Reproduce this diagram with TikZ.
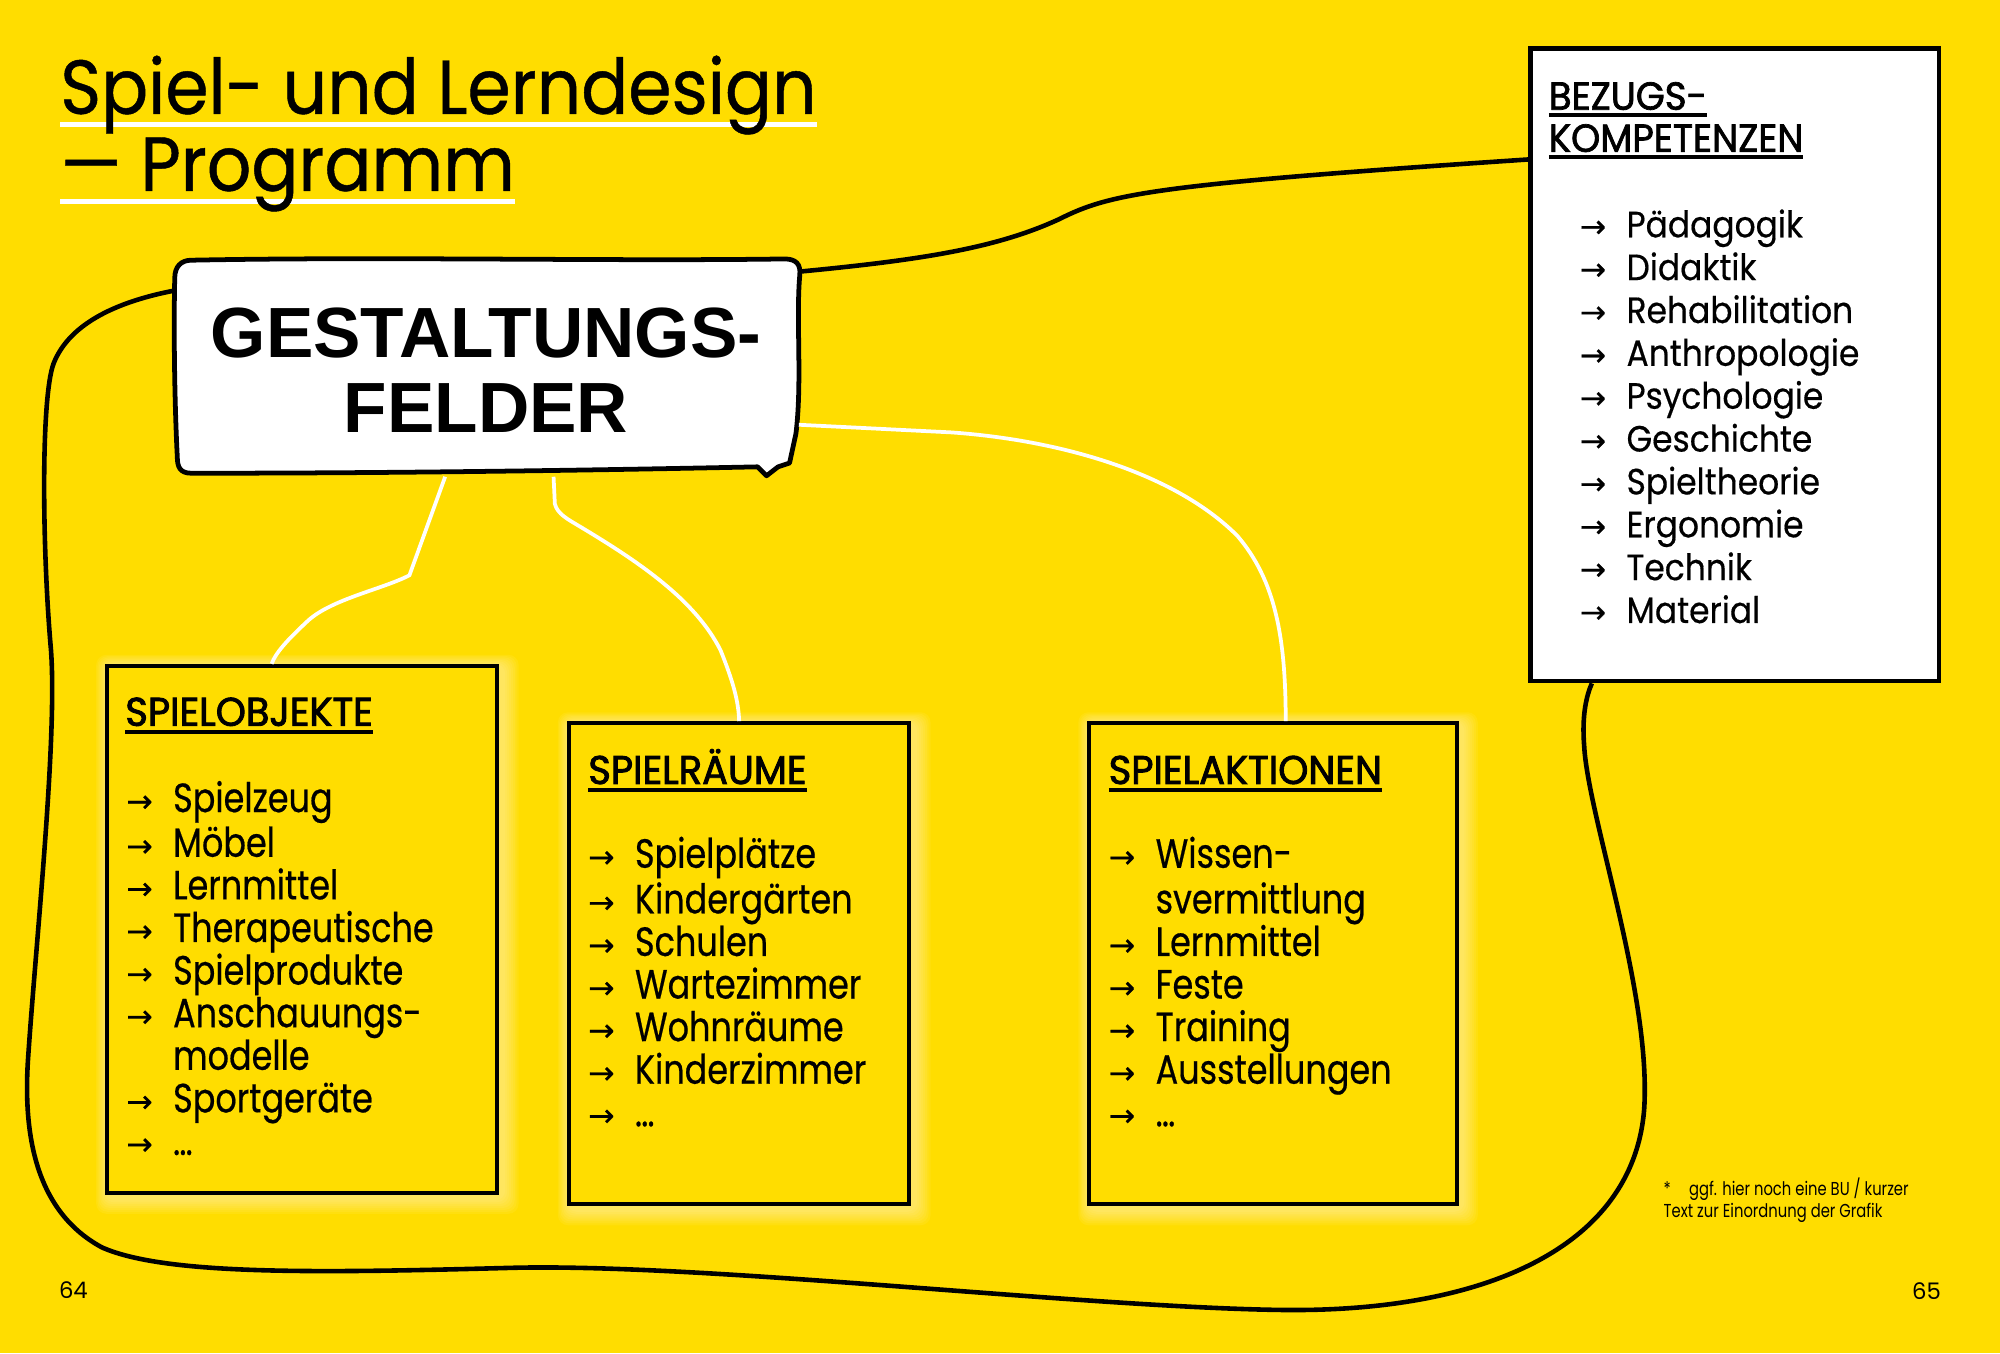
\documentclass[tikz,border=0pt]{standalone}
\usepackage{fontspec}
\setmainfont{Poppins}
\newfontfamily\titlefont[FakeStretch=0.91,FakeBold=0.6]{Poppins}
\newfontfamily\listfont[FakeStretch=0.9,FakeBold=0.4]{Poppins}
\newfontfamily\condfont[FakeStretch=0.82,FakeBold=0.5]{Poppins}
\newfontfamily\headfont[FakeStretch=0.96,FakeBold=2.2]{Poppins}
\newfontfamily\bkheadfont[FakeStretch=0.95,FakeBold=1.8]{Poppins}
\newfontfamily\notefont[FakeStretch=0.79]{Poppins}
\newfontfamily\fieldfont{Liberation Sans}
\newfontfamily\arrowfont[FakeBold=0.4]{DejaVu Sans}
\usetikzlibrary{calc}
\definecolor{pageyellow}{RGB}{255,221,0}
\pgfdeclarelayer{paper}
\pgfdeclarelayer{glow}
\pgfsetlayers{paper,glow,main}
% underlined word: colour, raise, thickness, text
\newcommand{\ulword}[4]{\setbox0=\hbox{#4}\rlap{\color{#1}\rule[#2]{\wd0}{#3}}\box0}
\newcommand{\arw}{\makebox[27.5pt][l]{\arrowfont\fontsize{18.5pt}{18.5pt}\selectfont →}}
\newcommand{\ind}{\hspace*{27.5pt}}

\begin{document}
\begin{tikzpicture}[x=0.75pt,y=0.75pt,yscale=-1,xscale=1,
    box/.style={draw=black, line width=2.4pt, fill=pageyellow, inner sep=0pt},
    listtext/.style={align=left, inner sep=0pt, anchor=west},
    headtext/.style={inner sep=0pt, anchor=base west},
    loopline/.style={draw=black, line width=2.7pt},
    whiteline/.style={draw=white, line width=2.2pt}]

    %Page
    \begin{pgfonlayer}{paper}
    \fill[pageyellow] (0,0) rectangle (1568,1061);
    \end{pgfonlayer}
    \useasboundingbox (0,0) rectangle (1568,1061);

    % Title
    \node[listtext, font={\titlefont\fontsize{45pt}{43pt}\selectfont}] (title) at (47,105.2) {\strut\ulword{white}{-7.5pt}{3pt}{Spiel- und Lerndesign}\\\ulword{white}{-7.9pt}{3pt}{— Programm}\strut};

    %Shape: hand drawn box
    \draw[line width=2.8pt, fill=white, line join=round] (150,204) .. controls (300,201) and (480,205) .. (615,203) .. controls (624,203) and (628,207) .. (627,216) .. controls (624,250) and (629,300) .. (624,340) -- (619,363) -- (610,366) -- (601,373) -- (594,366) .. controls (450,369) and (300,371) .. (150,371) .. controls (141,371) and (139,366) .. (139,358) .. controls (137,320) and (136,260) .. (137,218) .. controls (137,209) and (142,204) .. cycle;
    % Text Node
    \node[align=center, inner sep=0pt, minimum width=367.5pt, minimum height=124.5pt, font={\fieldfont\bfseries\fontsize{41.8pt}{44.25pt}\selectfont}] (gf) at (381,290.5) {GESTALTUNGS-\\FELDER};

    %Shape: Rectangles
    \node[box, minimum width=229.5pt, minimum height=309.75pt] (so) at (237,728.5) {};
    \node[box, minimum width=200.25pt, minimum height=282.75pt] (sr) at (579.5,755.5) {};
    \node[box, minimum width=216pt, minimum height=282.75pt] (sa) at (998,755.5) {};
    \node[box, fill=white, line width=2.6pt, minimum width=240pt, minimum height=372pt] (bk) at (1360,286) {};

    % glow under the three boxes
    \begin{pgfonlayer}{glow}
    \foreach \n in {so,sr,sa}{
      \foreach \g in {1,...,8}{
        \fill[white, opacity=0.06, rounded corners=6pt] ($(\n.north west)+({1-\g},{1-\g})$) rectangle ($(\n.south east)+({3+1.5*\g},{3+1.5*\g})$);
      }
    }
    \end{pgfonlayer}

    % Text Node
    \node[headtext, font={\headfont\fontsize{23.5pt}{25pt}\selectfont}] (soh) at (98,569) {\ulword{black}{-4.9pt}{2.25pt}{SPIELOBJEKTE}};
    \node[listtext, font={\condfont\fontsize{24pt}{25.05pt}\selectfont}] (sol) at (98.8,763.9) {\strut\arw Spielzeug\\\arw Möbel\\\arw Lernmittel\\\arw Therapeutische\\\arw Spielprodukte\\\arw Anschauungs-\\\ind modelle\\\arw Sportgeräte\\\arw …\strut};
    % Text Node
    \node[headtext, font={\headfont\fontsize{23.5pt}{25pt}\selectfont}] (srh) at (461,614.6) {\ulword{black}{-4.5pt}{2.25pt}{SPIELRÄUME}};
    \node[listtext, font={\condfont\fontsize{24pt}{25.05pt}\selectfont}] (srl) at (460.9,774.5) {\strut\arw Spielplätze\\\arw Kindergärten\\\arw Schulen\\\arw Wartezimmer\\\arw Wohnräume\\\arw Kinderzimmer\\\arw …\strut};
    % Text Node
    \node[headtext, font={\headfont\fontsize{23.5pt}{25pt}\selectfont}] (sah) at (869,614.6) {\ulword{black}{-4.5pt}{2.25pt}{SPIELAKTIONEN}};
    \node[listtext, font={\condfont\fontsize{24pt}{25.05pt}\selectfont}] (sal) at (869.1,774.5) {\strut\arw Wissen-\\\ind svermittlung\\\arw Lernmittel\\\arw Feste\\\arw Training\\\arw Ausstellungen\\\arw …\strut};
    % Text Node
    \node[listtext, font={\bkheadfont\fontsize{23pt}{24.75pt}\selectfont}] (bkh) at (1214,95.9) {\strut\ulword{black}{-4.1pt}{2.25pt}{BEZUGS-}\\\ulword{black}{-4.1pt}{2.25pt}{KOMPETENZEN}\strut};
    \node[listtext, font={\listfont\fontsize{21.5pt}{25.2pt}\selectfont}] (bkl) at (1238.3,330.5) {\strut\arw Pädagogik\\\arw Didaktik\\\arw Rehabilitation\\\arw Anthropologie\\\arw Psychologie\\\arw Geschichte\\\arw Spieltheorie\\\arw Ergonomie\\\arw Technik\\\arw Material\strut};

    %Curve Lines white
    \draw[whiteline] ($(gf.south)+(-32,0)$) -- (321,451) .. controls (300,462) and (258,470) .. (240,488) .. controls (225,502) and (216,512) .. ($(so.north)+(-24,0)$);
    \draw[whiteline] ($(gf.south)+(53,0)$) -- (435,395) .. controls (437,403) and (445,407) .. (455,413) .. controls (500,440) and (545,470) .. (565,510) .. controls (575,535) and (579,550) .. (sr.north);
    \draw[whiteline] ($(gf.east)+(0,42.5)$) -- (746,339) .. controls (830,345) and (920,370) .. (970,420) .. controls (1000,455) and (1008,500) .. ($(sa.north)+(10,0)$);

    %Curve Lines black
    \draw[loopline] ($(gf.west)+(0,-62.5)$) .. controls (95,236) and (55,252) .. (42,285) .. controls (32,312) and (33,430) .. (40,510) .. controls (45,580) and (28,740) .. (22,830) .. controls (18,890) and (28,950) .. (80,978) .. controls (130,1000) and (250,998) .. (400,994) .. controls (550,990) and (850,1025) .. (1005,1027) .. controls (1160,1029) and (1280,980) .. (1289,870) .. controls (1295,780) and (1245,640) .. (1242,585) .. controls (1240,560) and (1244,545) .. ($(bk.south)+(-112,0)$);
    \draw[loopline] ($(gf.east)+(0,-77.5)$) .. controls (720,204) and (780,195) .. (830,172) .. controls (870,152) and (900,145) .. ($(bk.west)+(0,-161)$);

    % Text Node
    \node[listtext, font={\notefont\fontsize{11pt}{11.6pt}\selectfont}] (note) at (1304,941.65) {\strut\makebox[15pt][l]{*}ggf. hier noch eine BU / kurzer\\Text zur Einordnung der Grafik\strut};
    \node[headtext, font={\fontsize{13.4pt}{16pt}\selectfont}] (pl) at (46,1018) {64};
    \node[inner sep=0pt, anchor=base east, font={\fontsize{13.4pt}{16pt}\selectfont}] (pr) at (1522,1019) {65};

\end{tikzpicture}
\end{document}
